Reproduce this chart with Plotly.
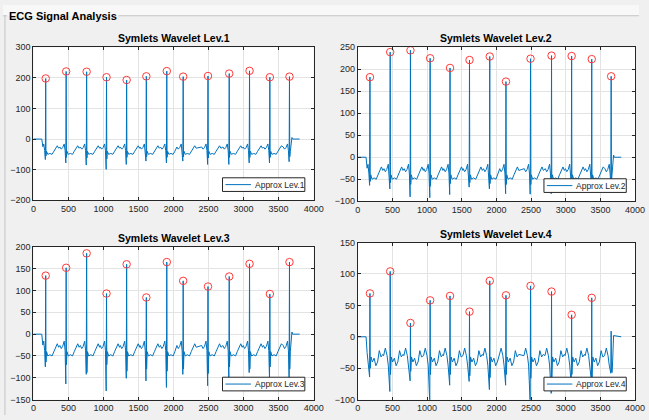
import plotly.graph_objects as go

W, H = 649, 420

# ---------------- data ----------------
# R-peak sample positions (shared by all decomposition levels)
R_POS = [176, 468, 760, 1044, 1331, 1612, 1904, 2138, 2492, 2795, 3085, 3375, 3655]

# detected R-peak amplitudes per level
PEAK_L1 = [198, 221, 220, 202, 193, 205, 222, 204, 206, 214, 223, 202, 204]
PEAK_L2 = [182, 239, 243, 225, 203, 221, 229, 172, 224, 231, 230, 223, 184]
PEAK_L3 = [134, 152, 185, 93, 160, 84, 165, 122, 109, 132, 161, 92, 165]
PEAK_L4 = [69, 104, 22, 58, 65, 40, 89, 66, 81, 72, 35, 62, 9]
MARKED_L4 = 12  # last level-4 beat is below the detection threshold

# Q / S trough depths per beat
Q_L1 = [-67, -78, -85, -99, -83, -72, -78, -72, -83, -83, -78, -78, -74]
S_L1 = [-55, -60, -62, -65, -60, -58, -60, -58, -62, -60, -60, -60, -58]
Q_L2 = [-64, -72, -90, -92, -85, -68, -72, -83, -84, -83, -62, -64, -62]
S_L2 = [-55, -58, -62, -66, -60, -58, -60, -62, -62, -60, -58, -58, -56]
Q_L3 = [-75, -114, -92, -130, -101, -107, -122, -92, -118, -103, -88, -103, -103]
S_L3 = [-64, -70, -88, -70, -85, -80, -85, -80, -90, -75, -80, -75, -80]
Q_L4 = [-64, -87, -70, -105, -77, -71, -84, -77, -105, -90, -77, -71, -58]
S_L4 = [-50, -60, -55, -60, -60, -62, -65, -60, -66, -65, -60, -65, -56]

# waveform between beats (sample offset from R, amplitude)
PRE_OFF_A = [-90, -70, -50, -28, -15]
PRE_VAL_A = [-26, -33, -28, -16, -38]
POST_OFF_A = [12, 30, 60, 90, 115, 140, 165, 185]
POST_VAL_A = [-40, -50, -47, -50, -40, -30, -22, -30]

PRE_OFF_B = [-95, -70, -45, -28]
PRE_VAL_B = [-30, -18, -30, -45]
POST_OFF_B = [15, 35, 60, 85, 110, 135, 160, 185]
POST_VAL_B = [-32, -40, -34, -46, -40, -22, -32, -28]

# flat lead-in / tail of the record
LEAD_X = [0, 120, 135]
LEAD_Y = [0, 0, -25]
TAIL_X_A = [3690, 3700, 3800]
TAIL_Y_A = [5, 0, 0]
TAIL_X_B = [3670, 3690, 3800]
TAIL_Y_B = [-57, 2, 0]

X_TICKS = [0, 500, 1000, 1500, 2000, 2500, 3000, 3500, 4000]


def build(peaks, q, s, pre_off, pre_val, post_off, post_val, tail_x, tail_y):
    xs, ys = list(LEAD_X), list(LEAD_Y)
    n = len(R_POS)
    for i, r in enumerate(R_POS):
        for o, v in zip(pre_off, pre_val):
            if r + o > xs[-1] + 3:
                xs.append(r + o); ys.append(v)
        xs += [r - 5, r, r + 4]
        ys += [q[i], peaks[i], s[i]]
        limit = (R_POS[i + 1] + pre_off[0] - 5) if i + 1 < n else tail_x[0] - 5
        for o, v in zip(post_off, post_val):
            if r + o < limit:
                xs.append(r + o); ys.append(v)
    xs += tail_x
    ys += tail_y
    return xs, ys


levels = [
    dict(name="Approx Lev.1", peaks=PEAK_L1, q=Q_L1, s=S_L1, tmpl="A", nmark=13,
         yr=[-200, 300], dt=100, px=(31, 317), py=(43.3, 200), ty=34),
    dict(name="Approx Lev.2", peaks=PEAK_L2, q=Q_L2, s=S_L2, tmpl="A", nmark=13,
         yr=[-100, 250], dt=50, px=(362, 645), py=(43.3, 201), ty=34),
    dict(name="Approx Lev.3", peaks=PEAK_L3, q=Q_L3, s=S_L3, tmpl="A", nmark=13,
         yr=[-150, 200], dt=50, px=(31, 317), py=(247.7, 404.3), ty=238.3),
    dict(name="Approx Lev.4", peaks=PEAK_L4, q=Q_L4, s=S_L4, tmpl="B", nmark=MARKED_L4,
         yr=[-100, 150], dt=50, px=(362, 645), py=(243.3, 404.3), ty=235),
]

FONT = "Liberation Sans, Arial, Helvetica, sans-serif"
AX_COL = "#262626"
TXT_COL = "#262626"
GRID = "#e3e3e3"
BLUE = "#0072BD"


def fx(p):
    return p / W


def fy(p):
    return 1 - p / H


fig = go.Figure()
layout = {}
annotations = []
shapes = [
    dict(type="rect", xref="paper", yref="paper", x0=0, x1=1, y0=fy(11), y1=1,
         fillcolor="#f8f8f8", line=dict(width=0), layer="below"),
    dict(type="line", xref="paper", yref="paper", x0=0, x1=fx(4),
         y0=fy(11), y1=fy(11), line=dict(color="#c4c4c4", width=1)),
    dict(type="line", xref="paper", yref="paper", x0=fx(118), x1=1,
         y0=fy(11), y1=fy(11), line=dict(color="#c4c4c4", width=1)),
    dict(type="line", xref="paper", yref="paper", x0=fx(2), x1=fx(2),
         y0=0, y1=fy(11), line=dict(color="#c4c4c4", width=1)),
]

for k, lv in enumerate(levels):
    n = k + 1
    xa = "x" if n == 1 else f"x{n}"
    ya = "y" if n == 1 else f"y{n}"
    if lv["tmpl"] == "A":
        xs, ys = build(lv["peaks"], lv["q"], lv["s"], PRE_OFF_A, PRE_VAL_A,
                       POST_OFF_A, POST_VAL_A, TAIL_X_A, TAIL_Y_A)
    else:
        xs, ys = build(lv["peaks"], lv["q"], lv["s"], PRE_OFF_B, PRE_VAL_B,
                       POST_OFF_B, POST_VAL_B, TAIL_X_B, TAIL_Y_B)
    fig.add_trace(go.Scatter(x=xs, y=ys, mode="lines", name=lv["name"],
                             showlegend=False,
                             line=dict(color=BLUE, width=1),
                             xaxis=xa, yaxis=ya))
    m = lv["nmark"]
    fig.add_trace(go.Scatter(x=R_POS[:m], y=lv["peaks"][:m], mode="markers",
                             showlegend=False,
                             marker=dict(symbol="circle-open", size=7.5,
                                         color="#ff3a3a", line=dict(width=1)),
                             xaxis=xa, yaxis=ya))

    x0, x1 = lv["px"]
    y0, y1 = lv["py"]
    common = dict(showgrid=True, gridcolor=GRID, gridwidth=1, zeroline=False,
                  showline=True, linecolor=AX_COL, linewidth=1, mirror="allticks",
                  ticks="inside", ticklen=3, tickcolor=AX_COL,
                  tickfont=dict(family=FONT, size=9, color=TXT_COL))
    layout["xaxis" if n == 1 else f"xaxis{n}"] = dict(
        domain=[fx(x0), fx(x1)], range=[0, 4000], tickvals=X_TICKS,
        anchor=ya, **common)
    layout["yaxis" if n == 1 else f"yaxis{n}"] = dict(
        domain=[fy(y1), fy(y0)], range=lv["yr"], dtick=lv["dt"],
        anchor=xa, **common)

    # legend box in the lower-right corner of the axes
    lx1, lx0 = x1 - 9, x1 - 93
    ly1, ly0 = y1 - 9, y1 - 23
    shapes.append(dict(type="rect", xref="paper", yref="paper", layer="above",
                       x0=fx(lx0), x1=fx(lx1), y0=fy(ly1), y1=fy(ly0),
                       fillcolor="white", line=dict(color=AX_COL, width=1)))
    ym = (ly0 + ly1) / 2
    shapes.append(dict(type="line", xref="paper", yref="paper", layer="above",
                       x0=fx(lx0 + 3), x1=fx(lx0 + 29), y0=fy(ym), y1=fy(ym),
                       line=dict(color=BLUE, width=1)))
    annotations.append(dict(text=lv["name"], x=fx(lx0 + 31), y=fy(ym),
                            xref="paper", yref="paper", showarrow=False,
                            xanchor="left", yanchor="middle",
                            font=dict(family=FONT, size=8.5, color=TXT_COL)))

    annotations.append(dict(text="<b>Symlets Wavelet Lev.%d</b>" % n,
                            x=fx((x0 + x1) / 2), y=fy(lv["ty"]),
                            xref="paper", yref="paper", showarrow=False,
                            xanchor="center", yanchor="middle",
                            font=dict(family=FONT, size=10.5, color="#000000")))

annotations.append(dict(text="<b>ECG Signal Analysis</b>", x=fx(4), y=fy(11),
                        xref="paper", yref="paper", showarrow=False,
                        xanchor="left", yanchor="middle",
                        font=dict(family=FONT, size=11, color="#000000")))

fig.update_layout(width=W, height=H, margin=dict(l=0, r=0, t=0, b=0),
                  paper_bgcolor="#f0f0f0", plot_bgcolor="white",
                  showlegend=False,
                  annotations=annotations, shapes=shapes, **layout)

fig.write_html("out.html")
